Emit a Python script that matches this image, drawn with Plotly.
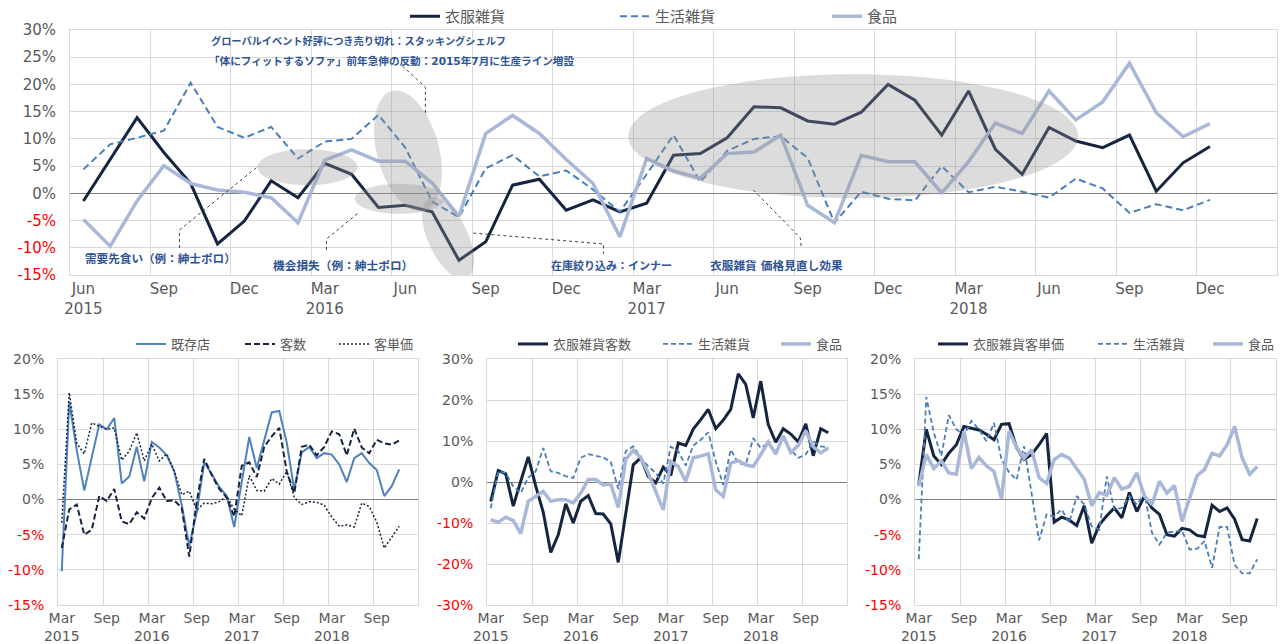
import numpy as np
import plotly.graph_objects as go

W, H = 1284, 644

# ---- top chart: monthly YoY, Jun 2015 - Dec 2018 ----
apparel = [-1.4, 6.3, 13.9, 7.5, 1.8, -9.3, -5.1, 2.3, -0.8, 5.5, 3.5, -2.6, -2.2, -3.4, -12.3,
           -8.9, 1.5, 2.6, -3.1, -1.2, -3.4, -1.8, 7.0, 7.3, 10.2, 15.9, 15.7, 13.3, 12.7, 14.9,
           20.0, 17.1, 10.7, 18.8, 8.1, 3.5, 12.1, 9.6, 8.4, 10.7, 0.4, 5.6, 8.6]
household = [4.4, 9.0, 10.2, 11.5, 20.3, 12.2, 10.2, 12.2, 6.4, 9.5, 10.0, 14.4, 8.4, -1.5, -4.4,
             4.6, 7.0, 3.1, 4.2, 0.7, -3.4, 3.5, 10.7, 2.1, 7.8, 10.0, 10.5, 6.5, -5.4, 0.3,
             -1.0, -1.3, 5.0, 0.2, 1.2, 0.3, -0.8, 2.7, 0.9, -3.6, -2.0, -3.1, -1.2]
food = [-4.8, -9.7, -1.4, 5.1, 1.8, 0.6, 0.2, -0.8, -5.4, 6.1, 8.0, 5.9, 5.9, 1.9, -4.2,
        11.0, 14.3, 11.0, 6.2, 1.8, -8.0, 6.4, 4.1, 2.8, 7.3, 7.6, 10.7, -2.2, -5.4, 7.0,
        5.8, 5.8, 0.1, 5.8, 12.9, 11.0, 18.8, 13.5, 16.8, 23.9, 14.8, 10.4, 12.8]
top_ticktext = ["Jun<br>2015", "Sep", "Dec", "Mar<br>2016", "Jun", "Sep", "Dec", "Mar<br>2017",
                "Jun", "Sep", "Dec", "Mar<br>2018", "Jun", "Sep", "Dec"]
top_ncat = 45  # Jun 2015 - Feb 2019 slots on the axis

# ---- bottom charts: Mar 2015 - Dec 2018 ----
existing = [-10.2, 13.9, 7.0, 1.3, 6.0, 10.7, 10.0, 11.6, 2.3, 3.3, 7.5, 2.6, 8.2, 7.4, 6.3, 4.0,
            -0.8, -6.6, -1.8, 5.3, 3.6, 1.8, 0.5, -3.9, 2.5, 8.9, 4.5, 8.5, 12.4, 12.6, 8.1, 1.4,
            6.7, 7.5, 5.9, 6.6, 6.4, 5.0, 2.5, 5.9, 6.6, 5.2, 4.2, 0.5, 1.9, 4.3]
customers = [-6.9, -1.4, -0.7, -5.0, -4.3, 0.5, -0.2, 1.5, -3.1, -3.5, -1.8, -2.7, 0.2, 1.7, -0.2,
             -0.1, -1.2, -8.1, -0.3, 5.8, 3.5, 1.5, 0.3, -2.4, 4.8, 5.3, 3.2, 7.5, 9.0, 10.2, 4.0,
             0.9, 7.5, 7.8, 6.3, 7.5, 9.7, 9.3, 6.3, 10.1, 7.4, 6.6, 8.5, 8.0, 7.8, 8.4]
unit_price = [-3.3, 15.2, 8.0, 6.5, 10.9, 10.4, 10.0, 10.2, 5.6, 6.9, 9.5, 5.5, 7.9, 5.5, 6.5, 4.1,
              0.7, 1.2, -1.5, -0.5, -0.6, -0.3, 0.5, -1.4, -2.3, 3.4, 1.3, 1.2, 3.0, 2.2, 4.0, 0.3,
              -0.7, -0.3, -0.4, -0.8, -2.5, -3.8, -3.6, -3.9, -0.5, -1.0, -3.2, -6.9, -5.4, -3.8]

apparel_cust = [-4.7, 2.8, 2.0, -5.9, 0.2, 6.1, -1.0, -7.4, -17.2, -12.9, -5.3, -10.0, -4.7, -3.3,
                -7.7, -7.8, -10.2, -19.6, -7.7, 4.2, 5.9, 1.4, -0.2, 3.6, 1.6, 9.5, 8.9, 12.9, 15.2,
                17.7, 13.0, 15.1, 17.7, 26.4, 23.8, 15.6, 24.6, 14.0, 9.7, 13.0, 11.7, 9.8, 14.2,
                6.4, 13.0, 12.0]
household_cust = [-6.4, 2.6, 2.2, -1.1, -2.7, 1.1, 2.6, 8.3, 2.6, 2.2, 1.4, 1.0, 5.9, 6.8, 6.4, 6.0,
                  4.9, -1.7, 7.5, 8.7, 5.9, 3.8, 2.2, -0.4, 8.6, 7.5, 4.0, 8.9, 10.3, 12.1, 5.0,
                  -0.7, 7.9, 4.6, 4.2, 10.7, 8.3, 9.5, 7.5, 10.5, 7.9, 5.9, 6.7, 9.9, 8.7, 8.5]
food_cust = [-9.2, -9.8, -8.6, -9.4, -12.6, -4.7, -3.5, -2.3, -4.7, -4.3, -4.3, -5.1, -2.7, 0.6, 0.6,
             -0.7, -0.5, -6.2, 5.5, 7.7, 5.9, 2.2, -2.3, -6.8, 5.0, 3.8, 0.2, 5.9, 6.3, 6.9, -1.9,
             -3.5, 4.6, 5.2, 4.2, 3.8, 6.7, 9.8, 6.8, 11.3, 7.2, 8.9, 12.5, 8.6, 7.1, 8.3]

apparel_price = [2.1, 10.0, 6.2, 5.0, 6.6, 7.8, 10.4, 10.1, 9.9, 9.3, 8.5, 10.7, 10.8, 7.4, 5.7, 6.4,
                 7.8, 9.4, -3.2, -2.5, -2.9, -3.7, -0.9, -6.2, -3.6, -2.3, -1.2, -2.6, 1.0, -1.7,
                 0.5, -1.2, -2.1, -5.0, -5.2, -4.1, -4.3, -5.1, -5.3, -0.8, -1.7, -1.2, -2.8, -5.7,
                 -5.9, -2.7]
household_price = [-8.5, 14.6, 9.5, 6.2, 12.0, 10.0, 9.1, 11.2, 10.0, 8.3, 10.9, 5.7, 3.9, 2.8, 7.6,
                   0.9, -5.8, -2.1, -2.4, -1.4, -3.3, 0.5, -0.7, -3.8, -4.3, 3.3, -1.4, -1.2, 0.5,
                   -0.7, 0.9, -4.7, -6.4, -4.7, -4.5, -4.4, -7.1, -7.0, -5.9, -9.7, -3.9, -3.9,
                   -9.3, -10.5, -10.5, -8.5]
food_price = [1.9, 6.4, 4.4, 5.5, 3.8, 3.6, 9.7, 4.4, 6.0, 4.8, 4.0, 0.1, 9.7, 7.5, 5.9, 7.1, 3.1,
              2.3, 5.7, 6.4, 5.9, 4.5, 2.9, -0.9, 1.0, 0.6, 3.1, 1.5, 1.9, 3.8, 0.5, -0.7, 2.6, 0.9,
              2.0, -3.1, 0.2, 3.4, 4.3, 6.6, 6.2, 7.8, 10.4, 5.9, 3.6, 4.7]
bottom_ticktext = ["Mar<br>2015", "Sep", "Mar<br>2016", "Sep", "Mar<br>2017", "Sep",
                   "Mar<br>2018", "Sep"]
bottom_ncat = 48  # Mar 2015 - Feb 2019

NAVY = "#15253f"
DASHBLUE = "#4a7ebb"
LIGHT = "#a9b8d8"
STOREBLUE = "#4f81bd"
GRID = "#d9d9d9"
TXT = "#595959"
NOTE = "#2f5496"
FONT = "DejaVu Sans, Noto Sans CJK JP, sans-serif"

top_x = list(range(len(apparel)))
bot_x = list(range(len(existing)))

fig = go.Figure()


def line(x, y, name, color, width, dash, xa, ya, legend, lw=None):
    fig.add_trace(go.Scatter(x=x, y=y, name=name, mode="lines",
                             line=dict(color=color, width=width, dash=dash),
                             xaxis=xa, yaxis=ya, legend=legend, legendwidth=lw,
                             hoverinfo="skip"))


line(top_x, apparel, "衣服雑貨", NAVY, 3, "solid", "x", "y", "legend", 165)
line(top_x, household, "生活雑貨", DASHBLUE, 2, "7px,4px", "x", "y", "legend", 167)
line(top_x, food, "食品", LIGHT, 3.5, "solid", "x", "y", "legend")

line(bot_x, existing, "既存店", STOREBLUE, 2, "solid", "x2", "y2", "legend2", 64)
line(bot_x, customers, "客数", NAVY, 2, "6px,3px", "x2", "y2", "legend2", 49)
line(bot_x, unit_price, "客単価", NAVY, 1.5, "2px,2px", "x2", "y2", "legend2")

line(bot_x, apparel_cust, "衣服雑貨客数", NAVY, 3, "solid", "x3", "y3", "legend3", 100)
line(bot_x, household_cust, "生活雑貨", DASHBLUE, 1.8, "5px,3px", "x3", "y3", "legend3", 73)
line(bot_x, food_cust, "食品", LIGHT, 3.5, "solid", "x3", "y3", "legend3")

line(bot_x, apparel_price, "衣服雑貨客単価", NAVY, 3, "solid", "x4", "y4", "legend4", 115)
line(bot_x, household_price, "生活雑貨", DASHBLUE, 1.8, "5px,3px", "x4", "y4", "legend4", 70)
line(bot_x, food_price, "食品", LIGHT, 3.5, "solid", "x4", "y4", "legend4")


def pct_labels(vals):
    out = []
    for v in vals:
        s = f"{v}%"
        out.append(f'<span style="color:#ff0000">{s}</span>' if v < 0 else s)
    return out


def xaxis(domain, ncat, step, ticktext, size):
    return dict(domain=domain, range=[-0.5, ncat - 0.5], tickmode="array",
                tickvals=list(range(0, step * len(ticktext), step)), ticktext=ticktext,
                showgrid=False, zeroline=False, showline=True, mirror=True, linecolor=GRID,
                ticks="", automargin=False, tickfont=dict(size=size, color=TXT),
                minor=dict(tickmode="array", tickvals=[k - 0.5 for k in range(step, ncat, step)],
                           showgrid=True, gridcolor=GRID, gridwidth=1, ticks=""))


def yaxis(domain, lo, hi, step, anchor, size):
    vals = list(range(lo, hi + 1, step))
    return dict(domain=domain, range=[lo, hi], tickmode="array", tickvals=vals,
                ticktext=pct_labels(vals), showgrid=True, gridcolor=GRID, gridwidth=1,
                zeroline=True, zerolinecolor="#808080", zerolinewidth=1,
                showline=True, mirror=True, linecolor=GRID, ticks="", anchor=anchor,
                automargin=False, ticklabelstandoff=10, tickfont=dict(size=size, color=TXT))


def px_x(p):
    return p / W


def px_y(p):
    return 1 - p / H


top_dom_y = [px_y(275), px_y(30)]
bot_dom_y = [px_y(605), px_y(359)]

fig.update_layout(
    xaxis=xaxis([px_x(70), px_x(1277)], top_ncat, 3, top_ticktext, 15),
    yaxis=yaxis(top_dom_y, -15, 30, 5, "x", 15),
    xaxis2=xaxis([px_x(58), px_x(418)], bottom_ncat, 6, bottom_ticktext, 14) | dict(anchor="y2"),
    yaxis2=yaxis(bot_dom_y, -15, 20, 5, "x2", 14),
    xaxis3=xaxis([px_x(487), px_x(847)], bottom_ncat, 6, bottom_ticktext, 14) | dict(anchor="y3"),
    yaxis3=yaxis(bot_dom_y, -30, 30, 10, "x3", 14),
    xaxis4=xaxis([px_x(915), px_x(1276)], bottom_ncat, 6, bottom_ticktext, 14) | dict(anchor="y4"),
    yaxis4=yaxis(bot_dom_y, -15, 20, 5, "x4", 14),
)

legend_base = dict(orientation="h", xanchor="left", yanchor="middle", bgcolor="rgba(0,0,0,0)",
                   tracegroupgap=0)
fig.update_layout(
    legend=legend_base | dict(x=px_x(405), y=1, yanchor="top", font=dict(size=15, color=TXT)),
    legend2=legend_base | dict(x=px_x(131), y=px_y(344), font=dict(size=13, color=TXT)),
    legend3=legend_base | dict(x=px_x(513), y=px_y(344), font=dict(size=13, color=TXT)),
    legend4=legend_base | dict(x=px_x(933), y=px_y(344), font=dict(size=13, color=TXT)),
)

# ---- annotations on the top chart (data coords: month index, %) ----
XS = (1277 - 70) / top_ncat   # px per month
YS = 245 / 45                 # px per %


def ellipse(cx, cy, a, b, deg=0, n=72):
    t = np.linspace(0, 2 * np.pi, n)
    r = np.deg2rad(deg)
    dx = a * np.cos(t) * np.cos(r) - b * np.sin(t) * np.sin(r)
    dy = a * np.cos(t) * np.sin(r) + b * np.sin(t) * np.cos(r)
    xs = cx + dx / XS
    ys = cy - dy / YS
    return "M" + " L".join(f"{x:.3f},{y:.3f}" for x, y in zip(xs, ys)) + " Z"


ellipses = [
    (8.35, 4.8, 50, 18, 0),
    (12.1, 7.8, 62, 31, 75),
    (11.8, -1.0, 45, 15, 0),
    (13.6, -8.2, 44, 20, 65),
    (28.7, 10.5, 225, 62, 0),
]
for cx, cy, a, b, deg in ellipses:
    fig.add_shape(type="path", path=ellipse(cx, cy, a, b, deg), xref="x", yref="y",
                  fillcolor="rgba(150,150,150,0.33)", line=dict(width=0), layer="above")

leaders = [
    [(3.58, -10.05), (3.58, -6.74), (6.52, 5.0)],
    [(9.06, -10.4), (9.06, -8.4), (10.25, -3.6)],
    [(11.89, 23.4), (12.75, 19.5), (12.75, 14.2)],
    [(14.54, -7.3), (19.39, -9.3), (19.39, -11.1)],
    [(24.98, 0.6), (26.73, -8.2), (26.77, -10.2)],
]
for pts in leaders:
    path = "M" + " L".join(f"{x},{y}" for x, y in pts)
    fig.add_shape(type="path", path=path, xref="x", yref="y",
                  line=dict(color="#404040", width=1, dash="dot"), layer="above")

notes = [
    (4.7, 28.0, "グローバルイベント好評につき売り切れ：スタッキングシェルフ", 10.2),
    (4.6, 24.3, "「体にフィットするソファ」前年急伸の反動：2015年7月に生産ライン増設", 10.6),
    (0.0, -12.1, "需要先食い（例：紳士ポロ）", 11.6),
    (7.0, -13.4, "機会損失（例：紳士ポロ）", 11.7),
    (17.34, -13.4, "在庫絞り込み：インナー", 11),
    (23.3, -13.4, "衣服雑貨 価格見直し効果", 11.7),
]
for x, y, text, size in notes:
    fig.add_annotation(x=x, y=y, xref="x", yref="y", text=f"<b>{text}</b>", showarrow=False,
                       xanchor="left", yanchor="middle", font=dict(size=size, color=NOTE))

fig.update_layout(width=W, height=H, autosize=False, margin=dict(l=0, r=0, t=0, b=0),
                  paper_bgcolor="white", plot_bgcolor="white",
                  font=dict(family=FONT, color=TXT), hovermode=False)

# the page body has a default 8px margin; drop it so the figure sits at the window origin
fig.write_html("out.html", config={"displayModeBar": False},
               post_script="document.body.style.margin='0';document.body.style.overflow='hidden';")
